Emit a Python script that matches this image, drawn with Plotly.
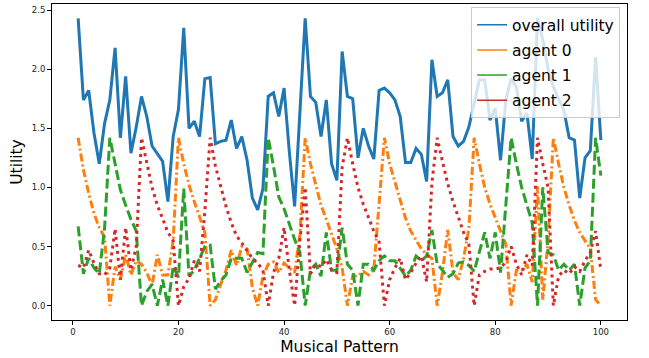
import plotly.graph_objects as go

x_vals = list(range(1, 101))

overall_utility = [
    2.43, 1.74, 1.82, 1.46, 1.20, 1.54, 1.74, 2.18, 1.42, 1.94,
    1.29, 1.51, 1.77, 1.60, 1.35, 1.28, 1.22, 0.88, 1.43, 1.66,
    2.35, 1.50, 1.56, 1.43, 1.92, 1.93, 1.37, 1.39, 1.40, 1.57,
    1.33, 1.43, 1.23, 0.91, 0.81, 0.99, 1.77, 1.80, 1.60, 1.84,
    1.30, 0.84, 1.60, 2.43, 1.77, 1.72, 1.43, 1.74, 1.20, 1.06,
    2.15, 1.77, 1.75, 1.25, 1.50, 1.35, 1.24, 1.82, 1.84, 1.80,
    1.74, 1.60, 1.21, 1.21, 1.33, 1.28, 1.05, 2.08, 1.77, 1.80,
    1.91, 1.43, 1.35, 1.39, 1.51, 1.71, 1.91, 1.91, 1.57, 1.67,
    1.23, 1.74, 1.92, 1.85, 1.56, 1.63, 1.24, 2.43, 2.25, 2.00,
    1.85, 1.75, 1.65, 1.42, 1.40, 0.91, 1.25, 1.31, 2.10, 1.40,
]

agent_0 = [
    1.42, 1.15, 0.95, 0.78, 0.66, 0.58, 0.00, 0.33, 0.22, 0.43,
    0.26, 0.38, 0.35, 0.28, 0.17, 0.43, 0.26, 0.26, 0.55, 1.42,
    1.20, 1.02, 0.88, 0.74, 0.62, 0.00, 0.05, 0.18, 0.30, 0.47,
    0.34, 0.50, 0.48, 0.15, 0.00, 0.25, 0.35, 0.37, 0.28, 0.36,
    0.32, 0.28, 0.60, 1.42, 1.20, 1.02, 0.85, 0.73, 0.60, 0.48,
    0.32, 0.00, 0.25, 0.25, 0.29, 0.26, 0.31, 0.90, 1.42, 1.20,
    1.04, 0.88, 0.74, 0.63, 0.55, 0.48, 0.43, 0.40, 0.00, 0.28,
    0.64, 0.28, 0.22, 0.40, 0.65, 1.42, 1.20, 1.00, 0.86, 0.74,
    0.63, 0.52, 0.00, 0.30, 0.30, 0.35, 0.20, 1.01, 0.05, 0.55,
    1.42, 1.20, 1.00, 0.85, 0.72, 0.62, 0.55, 0.48, 0.05, 0.00,
]

agent_1 = [
    0.67, 0.27, 0.40, 0.32, 0.27, 0.65, 1.42, 1.20, 0.98, 0.85,
    0.73, 0.63, 0.00, 0.12, 0.18, 0.00, 0.22, 0.00, 0.33, 0.24,
    0.99, 0.25, 0.30, 0.40, 0.50, 0.51, 0.14, 0.21, 0.26, 0.40,
    0.40, 0.40, 0.28, 0.36, 0.45, 0.44, 1.42, 1.18, 0.92, 0.82,
    0.68, 0.56, 0.45, 0.00, 0.30, 0.35, 0.25, 0.62, 0.30, 0.30,
    0.66, 0.35, 0.30, 0.00, 0.35, 0.35, 0.30, 0.38, 0.42, 0.38,
    0.38, 0.32, 0.25, 0.30, 0.42, 0.38, 0.42, 0.64, 0.35, 0.30,
    0.24, 0.27, 0.36, 0.37, 0.34, 0.29, 0.45, 0.62, 0.40, 0.62,
    0.28, 0.85, 1.42, 1.20, 1.00, 0.85, 0.70, 0.00, 1.00, 0.45,
    0.43, 0.30, 0.35, 0.30, 0.35, 0.00, 0.32, 0.38, 1.42, 1.10,
]

agent_2 = [
    0.34, 0.32, 0.47, 0.36, 0.27, 0.26, 0.32, 0.65, 0.22, 0.66,
    0.30, 0.50, 1.42, 1.20, 1.00, 0.85, 0.74, 0.62, 0.55, 0.00,
    0.16, 0.23, 0.38, 0.29, 0.80, 1.42, 1.18, 1.00, 0.84, 0.70,
    0.59, 0.53, 0.47, 0.40, 0.36, 0.30, 0.00, 0.28, 0.40, 0.66,
    0.30, 0.00, 0.55, 1.00, 0.27, 0.35, 0.33, 0.39, 0.30, 0.28,
    1.17, 1.42, 1.20, 1.00, 0.86, 0.74, 0.63, 0.54, 0.00, 0.22,
    0.32, 0.40, 0.22, 0.28, 0.36, 0.42, 0.20, 1.04, 1.42, 1.22,
    1.03, 0.88, 0.74, 0.62, 0.52, 0.00, 0.26, 0.29, 0.31, 0.31,
    0.32, 0.37, 0.50, 0.35, 0.26, 0.43, 0.34, 1.42, 1.20, 1.00,
    0.00, 0.25, 0.30, 0.27, 0.33, 0.29, 0.38, 0.45, 0.63, 0.30,
]

series_names = ["overall utility", "agent 0", "agent 1", "agent 2"]
colors = ["#1f77b4", "#ff7f0e", "#2ca02c", "#d62728"]
dashes = ["solid", "8px,3px,2px,3px", "10px,4px", "3px,4px"]
series = [overall_utility, agent_0, agent_1, agent_2]

fig = go.Figure()
for name, vals, col, dsh in zip(series_names, series, colors, dashes):
    fig.add_trace(go.Scatter(x=x_vals, y=vals, mode="lines", name=name,
                             showlegend=False,
                             line=dict(color=col, width=3, dash=dsh)))
for name, col in zip(series_names, colors):
    fig.add_trace(go.Scatter(x=[None], y=[None], mode="lines", name=name,
                             showlegend=True, legendgroup=name,
                             line=dict(color=col, width=1.5)))

font_family = "DejaVu Sans"
fig.update_layout(
    width=649, height=358,
    margin=dict(l=52, r=22, t=4, b=38),
    plot_bgcolor="white", paper_bgcolor="white",
    font=dict(family=font_family, color="#000"),
    legend=dict(x=0.988, y=0.99, xanchor="right", yanchor="top",
                bgcolor="rgba(255,255,255,0.8)", bordercolor="#cccccc",
                borderwidth=1, font=dict(size=15.5, family=font_family),
                tracegroupgap=2),
    xaxis=dict(range=[-3.95, 104.95], tickvals=[0, 20, 40, 60, 80, 100],
               showline=True, mirror=True, linecolor="#000", linewidth=1,
               ticks="outside", ticklen=4, tickwidth=1, tickcolor="#000",
               showgrid=False, zeroline=False,
               tickfont=dict(size=8.5, color="#222"),
               title=dict(text="Musical Pattern", standoff=4,
                          font=dict(size=15.5))),
    yaxis=dict(range=[-0.1215, 2.5515], tickvals=[0, 0.5, 1.0, 1.5, 2.0, 2.5],
               tickformat=".1f",
               showline=True, mirror=True, linecolor="#000", linewidth=1,
               ticks="outside", ticklen=4, tickwidth=1, tickcolor="#000",
               showgrid=False, zeroline=False,
               tickfont=dict(size=8.5, color="#222"),
               title=dict(text="Utility", standoff=5,
                          font=dict(size=15.5))),
)

fig.write_html("out.html")
